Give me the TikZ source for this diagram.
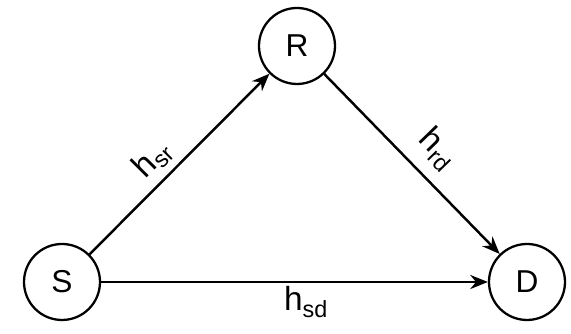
\documentclass[tikz,border=0pt]{standalone}
\usepackage{fontspec}
\setmainfont{Liberation Sans}
\usetikzlibrary{arrows.meta}

\tikzset{
  station/.style={draw, circle, line width=1.3pt, minimum size=1.52cm, inner sep=0pt},
  link/.style={-{Stealth[length=10pt, width=8pt]}, line width=1.4pt},
  gain/.style={font=\fontsize{19}{22}\selectfont, inner sep=1pt}
}

\begin{document}
\begin{tikzpicture}[font=\fontsize{18}{20}\selectfont]
  \useasboundingbox (0,0) rectangle (11.42,6.68);
  \node[station] (S) at (1.24,1.04) {S};
  \node[station] (R) at (5.94,5.76) {R};
  \node[station] (D) at (10.54,1.04) {D};
  \draw[link] (S) -- node[gain, pos=0.44, sloped, above=3pt] {h\textsubscript{sr}} (R);
  \draw[link] (R) -- node[gain, pos=0.53, sloped, above=6pt] {h\textsubscript{rd}} (D);
  \draw[link] (S) -- node[gain, pos=0.53, below=1pt] {h\textsubscript{sd}} (D);
\end{tikzpicture}
\end{document}
